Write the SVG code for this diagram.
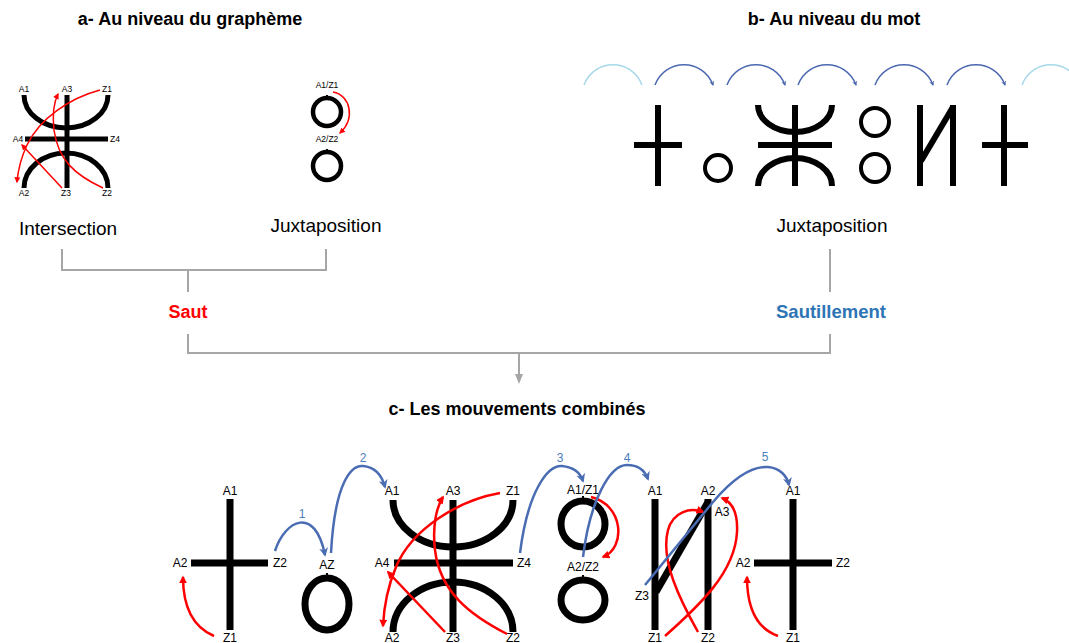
<svg xmlns="http://www.w3.org/2000/svg" width="1069" height="643" viewBox="0 0 1069 643">
<style>
text{font-family:"Liberation Sans",Arial,sans-serif;fill:#000}
.title{font-size:18px;font-weight:bold;text-anchor:middle}
.cap{font-size:19px;text-anchor:middle}
.la{font-size:8.5px;text-anchor:middle}
.lc{font-size:12px;text-anchor:middle}
.num{font-size:12px;text-anchor:middle;fill:#4a7ebb}
.g{fill:none;stroke:#000}
.ga{stroke-width:5}
.gb{stroke-width:6}
.gc{stroke-width:7}
.tick{stroke:#000;stroke-width:2}
.ra{fill:none;stroke:#f00;stroke-width:1.5}
.rc{fill:none;stroke:#f00;stroke-width:2.5}
.bc{fill:none;stroke:#4a6cb3;stroke-width:2.5}
.bd{fill:none;stroke:#4a67b0;stroke-width:1.5}
.bl{fill:none;stroke:#a6d8ea;stroke-width:1.5}
.gr{fill:none;stroke:#a6a6a6;stroke-width:2}
</style>
<defs>
<marker id="mra" viewBox="0 0 10 10" refX="8" refY="5" markerWidth="6" markerHeight="6" markerUnits="userSpaceOnUse" orient="auto"><path d="M0,0 L10,5 L0,10 z" fill="#f00"/></marker>
<marker id="mrc" viewBox="0 0 10 10" refX="8" refY="5" markerWidth="8" markerHeight="8" markerUnits="userSpaceOnUse" orient="auto"><path d="M0,0 L10,5 L0,10 z" fill="#f00"/></marker>
<marker id="mbc" viewBox="0 0 10 10" refX="8" refY="5" markerWidth="9" markerHeight="9" markerUnits="userSpaceOnUse" orient="auto"><path d="M0,0 L10,5 L0,10 L3,5 z" fill="#4a6cb3"/></marker>
<marker id="mbd" viewBox="0 0 10 10" refX="8" refY="5" markerWidth="5" markerHeight="5" markerUnits="userSpaceOnUse" orient="auto"><path d="M0,0 L10,5 L0,10 L3,5 z" fill="#4a67b0"/></marker>
<marker id="mgr" viewBox="0 0 10 10" refX="8" refY="5" markerWidth="10" markerHeight="10" markerUnits="userSpaceOnUse" orient="auto"><path d="M0,1 L10,5 L0,9 z" fill="#a6a6a6"/></marker>
</defs>

<g id="titles">
<text class="title" x="190" y="25">a- Au niveau du graphème</text>
<text class="title" x="834" y="25">b- Au niveau du mot</text>
<text class="title" x="517" y="415">c- Les mouvements combinés</text>
</g>

<g id="a-intersection">
<path class="g ga" d="M24,95 A42,33 0 0 0 108,95"/>
<path class="g ga" d="M24,188 A42,35 0 0 1 108,188"/>
<line class="g ga" x1="67" y1="95" x2="67" y2="188"/>
<line class="g ga" x1="25" y1="139" x2="108" y2="139"/>
<text class="la" x="24" y="92">A1</text>
<text class="la" x="67" y="92">A3</text>
<text class="la" x="107" y="92">Z1</text>
<text class="la" x="18" y="142">A4</text>
<text class="la" x="115" y="142">Z4</text>
<text class="la" x="24" y="196">A2</text>
<text class="la" x="66" y="196">Z3</text>
<text class="la" x="107" y="196">Z2</text>
<path class="ra" marker-end="url(#mra)" d="M100,90 C70,98 40,118 27,145 C20,160 18,170 17,182"/>
<path class="ra" marker-end="url(#mra)" d="M103,188 C75,175 58,160 54,130 C52,112 55,100 58,94"/>
<path class="ra" marker-end="url(#mra)" d="M62,188 L22,145"/>
<text class="cap" x="68" y="235">Intersection</text>
</g>

<g id="a-juxtaposition">
<circle class="g" stroke-width="4.5" cx="327" cy="112" r="14"/>
<circle class="g" stroke-width="4.5" cx="327" cy="166" r="14"/>
<line class="tick" x1="327" y1="95" x2="327" y2="100"/>
<line class="tick" x1="327" y1="149" x2="327" y2="154"/>
<text class="la" x="327" y="88">A1/Z1</text>
<text class="la" x="327" y="142">A2/Z2</text>
<path class="ra" marker-end="url(#mra)" d="M333,92 C350,95 356,118 340,133"/>
<text class="cap" x="326" y="232">Juxtaposition</text>
</g>

<g id="b-word">
<path class="bl" d="M584,85 C594,58 632,58 642,85"/>
<path class="bd" marker-end="url(#mbd)" d="M655,85 C665,58 703,58 713,85"/>
<path class="bd" marker-end="url(#mbd)" d="M727,85 C737,58 775,58 785,85"/>
<path class="bd" marker-end="url(#mbd)" d="M798,85 C808,58 846,58 856,85"/>
<path class="bd" marker-end="url(#mbd)" d="M875,85 C885,58 923,58 933,85"/>
<path class="bd" marker-end="url(#mbd)" d="M947,85 C957,58 995,58 1005,85"/>
<path class="bl" d="M1022,85 C1032,58 1070,58 1080,85"/>
<line class="g gb" x1="658" y1="105" x2="658" y2="186"/>
<line class="g gb" x1="634" y1="145" x2="682" y2="145"/>
<circle class="g" stroke-width="4" cx="718" cy="168" r="13"/>
<path class="g gb" d="M758,105 A37,27 0 0 0 832,105"/>
<path class="g gb" d="M758,186 A37,28 0 0 1 832,186"/>
<line class="g gb" x1="795" y1="105" x2="795" y2="186"/>
<line class="g gb" x1="758" y1="145" x2="832" y2="145"/>
<circle class="g" stroke-width="4" cx="875" cy="122" r="14"/>
<circle class="g" stroke-width="4" cx="875" cy="168" r="14"/>
<line class="g gb" x1="920" y1="105" x2="920" y2="186"/>
<line class="g gb" x1="953" y1="105" x2="953" y2="186"/>
<line class="g gb" x1="953" y1="107" x2="921" y2="161"/>
<line class="g gb" x1="1004" y1="105" x2="1004" y2="186"/>
<line class="g gb" x1="982" y1="145" x2="1028" y2="145"/>
<text class="cap" x="832" y="232">Juxtaposition</text>
</g>

<g id="saut">
<text x="188" y="318" font-size="18" font-weight="bold" text-anchor="middle" style="fill:#ff0000">Saut</text>
</g>
<g id="sautillement">
<text x="831" y="318" font-size="18.5" font-weight="bold" text-anchor="middle" style="fill:#2e75b6">Sautillement</text>
</g>

<g id="connectors">
<path class="gr" d="M62,249 V270 H326 V249"/>
<path class="gr" d="M188,270 V292"/>
<path class="gr" d="M830,249 V292"/>
<path class="gr" d="M188,334 V353 H830 V334"/>
<path class="gr" marker-end="url(#mgr)" d="M519,353 V382"/>
</g>

<g id="c-cross1">
<line class="g gc" x1="230" y1="499" x2="230" y2="630"/>
<line class="g gc" x1="191" y1="563" x2="268" y2="563"/>
<text class="lc" x="230" y="495">A1</text>
<text class="lc" x="180" y="567">A2</text>
<text class="lc" x="280" y="567">Z2</text>
<text class="lc" x="230" y="642">Z1</text>
<path class="rc" marker-end="url(#mrc)" d="M214,636 C195,628 183,610 183,577"/>
</g>

<g id="c-circle">
<ellipse class="g gc" cx="327" cy="604" rx="22" ry="26"/>
<line class="tick" x1="327" y1="573" x2="327" y2="581"/>
<text class="lc" x="327" y="569">AZ</text>
</g>

<g id="c-yaz">
<path class="g gc" d="M393,500 A60,47 0 0 0 513,500"/>
<path class="g gc" d="M393,632 A60,50 0 0 1 513,632"/>
<line class="g gc" x1="453" y1="500" x2="453" y2="632"/>
<line class="g gc" x1="394" y1="563" x2="513" y2="563"/>
<text class="lc" x="392" y="495">A1</text>
<text class="lc" x="453" y="495">A3</text>
<text class="lc" x="513" y="495">Z1</text>
<text class="lc" x="382" y="567">A4</text>
<text class="lc" x="524" y="567">Z4</text>
<text class="lc" x="392" y="642">A2</text>
<text class="lc" x="453" y="642">Z3</text>
<text class="lc" x="513" y="642">Z2</text>
<path class="rc" marker-end="url(#mrc)" d="M500,493 C460,500 412,528 396,567 C388,586 384,605 383,626"/>
<path class="rc" marker-end="url(#mrc)" d="M507,634 C470,615 440,592 435,550 C432,525 437,506 443,497"/>
<path class="rc" marker-end="url(#mrc)" d="M445,632 L388,572"/>
</g>

<g id="c-circles">
<ellipse class="g gc" cx="583" cy="524" rx="22" ry="23"/>
<ellipse class="g gc" cx="583" cy="600" rx="22" ry="20"/>
<line class="tick" x1="583" y1="496" x2="583" y2="504"/>
<line class="tick" x1="583" y1="575" x2="583" y2="583"/>
<text class="lc" x="583" y="494">A1/Z1</text>
<text class="lc" x="583" y="571">A2/Z2</text>
<path class="rc" marker-end="url(#mrc)" d="M591,497 C624,505 626,548 603,557"/>
</g>

<g id="c-nu">
<line class="g gc" x1="655" y1="499" x2="655" y2="630"/>
<line class="g gc" x1="708" y1="499" x2="708" y2="630"/>
<line class="g gc" x1="708" y1="502" x2="656" y2="592"/>
<text class="lc" x="655" y="495">A1</text>
<text class="lc" x="708" y="495">A2</text>
<text class="lc" x="722" y="516">A3</text>
<text class="lc" x="642" y="600">Z3</text>
<text class="lc" x="655" y="642">Z1</text>
<text class="lc" x="708" y="642">Z2</text>
<path class="rc" marker-end="url(#mrc)" d="M665,636 C700,605 735,572 737,532 C738,512 732,502 722,498"/>
<path class="rc" marker-end="url(#mrc)" d="M698,632 C680,600 660,560 668,530 C673,512 690,507 703,512"/>
</g>

<g id="c-cross2">
<line class="g gc" x1="793" y1="499" x2="793" y2="630"/>
<line class="g gc" x1="754" y1="563" x2="832" y2="563"/>
<text class="lc" x="793" y="495">A1</text>
<text class="lc" x="743" y="567">A2</text>
<text class="lc" x="843" y="567">Z2</text>
<text class="lc" x="793" y="642">Z1</text>
<path class="rc" marker-end="url(#mrc)" d="M778,636 C755,628 747,606 747,577"/>
</g>

<g id="c-jumps">
<path class="bc" marker-end="url(#mbc)" d="M275,551 C285,520 315,505 325,555"/>
<path class="bc" marker-end="url(#mbc)" d="M331,553 C335,480 352,465 363,466 C375,467 382,476 385,487"/>
<path class="bc" marker-end="url(#mbc)" d="M520,553 C528,490 548,465 562,466 C572,467 580,472 583,481"/>
<path class="bc" marker-end="url(#mbc)" d="M583,557 C590,500 610,465 627,465 C638,465 645,471 648,479"/>
<path class="bc" marker-end="url(#mbc)" d="M645,585 L713,502 C735,476 752,466 768,467 C780,468 787,476 789,485"/>
<text class="num" x="302" y="518">1</text>
<text class="num" x="363" y="462">2</text>
<text class="num" x="560" y="462">3</text>
<text class="num" x="627" y="462">4</text>
<text class="num" x="765" y="461">5</text>
</g>
</svg>
